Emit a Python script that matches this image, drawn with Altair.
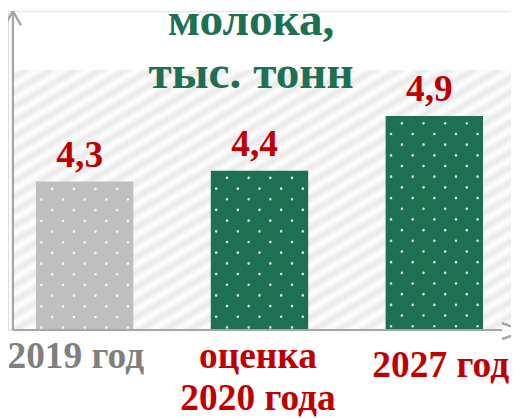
import altair as alt
import pandas as pd

# ---------------- data ----------------
categories = ["2019 год", "оценка 2020 года", "2027 год"]
category_labels = ["2019 год", "оценка\n2020 года", "2027 год"]
values = [4.3, 4.4, 4.9]
value_labels = ["4,3", "4,4", "4,9"]
title_lines = ["молока,", "тыс. тонн"]

# ---------------- styles ----------------
FONT = "'Liberation Serif', 'Times New Roman', serif"
GREEN = "#1e7052"
RED = "#c00000"
AXIS_GRAY = "#a6a6a6"
BAR_COLORS = ["#bfbfbf", GREEN, GREEN]
LABEL_COLORS = ["#7f7f7f", RED, RED]
LABEL_DX = [-9, -1.5, 6.5]
LABEL_DY = [38, 38, 48]
Y_MIN, Y_MAX = 2.94, 5.86
W, H = 511, 324

df = pd.DataFrame({"cat": categories, "value": values, "vlabel": value_labels,
                   "clabel": category_labels})

# dot-pattern helper table (texture columns inside each bar)
N_COLS = 9
dots = pd.DataFrame([{"cat": c, "value": v, "col": j, "parity": j % 2}
                     for c, v in zip(categories, values) for j in range(N_COLS)])

x_scale = alt.Scale(domain=categories, paddingInner=0.443, paddingOuter=0.16,
                    align=0.5, round=False)
y_scale = alt.Scale(domain=[Y_MIN, Y_MAX], nice=False, zero=False)
X = alt.X("cat:N", scale=x_scale, axis=None)
Y = alt.Y("value:Q", scale=y_scale, axis=None)

# hatched background via a repeating linear gradient
rw, rh = 506.0, 264.0
slope, period = 0.6, 13.0
r = slope * rw / rh
gy = (r + 1) / (r * r + 1)
gx = r * gy
L = (gx * gx + gy * gy) / (((gx / rw) ** 2 + (gy / rh) ** 2) ** 0.5)
p = period / L
stops = []
k = 0
while k * p <= 1.0:
    stops.append(alt.GradientStop(offset=round(k * p, 5), color="#ffffff"))
    if (k + 0.5) * p <= 1.0:
        stops.append(alt.GradientStop(offset=round((k + 0.5) * p, 5), color="#e9e9e9"))
    k += 1
hatch = alt.Gradient(gradient="linear", stops=stops, x1=0, y1=0, x2=gx, y2=gy)

bg = alt.Chart(df).mark_rect(fill=hatch).encode(
    x=alt.value(5), x2=alt.value(511), y=alt.value(60), y2=alt.value(H))

bars = alt.Chart(df).mark_bar().encode(
    x=X, y=Y, y2=alt.Y2(datum=Y_MIN),
    color=alt.Color("cat:N", scale=alt.Scale(domain=categories, range=BAR_COLORS),
                    legend=None))

dot_layers = []
for par, off in [(0, 3.55), (1, 14.4)]:
    dot_layers.append(
        alt.Chart(dots).transform_filter(alt.datum.parity == par).mark_rule(
            color="white", strokeWidth=2.6, strokeCap="round",
            strokeDash=[0.1, 21.6], strokeDashOffset=off, opacity=0.85
        ).encode(
            x=X,
            xOffset=alt.XOffset("col:N", scale=alt.Scale(paddingInner=0, paddingOuter=0)),
            y=Y, y2=alt.Y2(datum=Y_MIN))
    )

axis_style = dict(color=AXIS_GRAY, strokeWidth=2)
yaxis = alt.Chart(df).mark_rule(**axis_style).encode(
    x=alt.value(5), y=alt.value(0), y2=alt.value(H))
yarrow1 = alt.Chart(df).mark_rule(**axis_style).encode(
    x=alt.value(-3), x2=alt.value(5), y=alt.value(14), y2=alt.value(0))
yarrow2 = alt.Chart(df).mark_rule(**axis_style).encode(
    x=alt.value(13), x2=alt.value(5), y=alt.value(14), y2=alt.value(0))
xaxis = alt.Chart(df).mark_rule(**axis_style).encode(
    x=alt.value(5), x2=alt.value(502), y=alt.value(H))
xarrow1 = alt.Chart(df).mark_rule(**axis_style).encode(
    x=alt.value(502), x2=alt.value(526), y=alt.value(H - 7), y2=alt.value(H + 1))
xarrow2 = alt.Chart(df).mark_rule(**axis_style).encode(
    x=alt.value(502), x2=alt.value(526), y=alt.value(H + 9), y2=alt.value(H + 1))

vlabels = alt.Chart(df).mark_text(
    font=FONT, fontSize=38, fontWeight="bold", color=RED, baseline="alphabetic",
    dx=-5, dy=-15).encode(x=X, y=Y, text="vlabel:N")

clabels = []
for i, c in enumerate(categories):
    clabels.append(
        alt.Chart(df).transform_filter(alt.datum.cat == c).mark_text(
            font=FONT, fontSize=38, fontWeight="bold", color=LABEL_COLORS[i],
            baseline="alphabetic", lineBreak="\n", lineHeight=43,
            dx=LABEL_DX[i], dy=LABEL_DY[i]
        ).encode(x=X, y=alt.Y(datum=Y_MIN, scale=y_scale), text="clabel:N")
    )

chart = alt.layer(
    bg, bars, *dot_layers, yaxis, yarrow1, yarrow2, xaxis, xarrow1, xarrow2,
    vlabels, *clabels
).properties(
    width=W, height=H,
    title=alt.TitleParams(text=title_lines, font=FONT, fontSize=48, fontWeight="bold",
                          color=GREEN, anchor="middle", frame="group",
                          baseline="alphabetic", lineHeight=54, offset=-127,
                          dx=-8.5),
    autosize=alt.AutoSizeParams(type="none"),
    padding={"left": 0, "top": 0, "right": 0, "bottom": 86},
).configure_view(stroke=None).configure(background="white")

chart.save("out.html", embed_options={"renderer": "svg", "actions": False})
